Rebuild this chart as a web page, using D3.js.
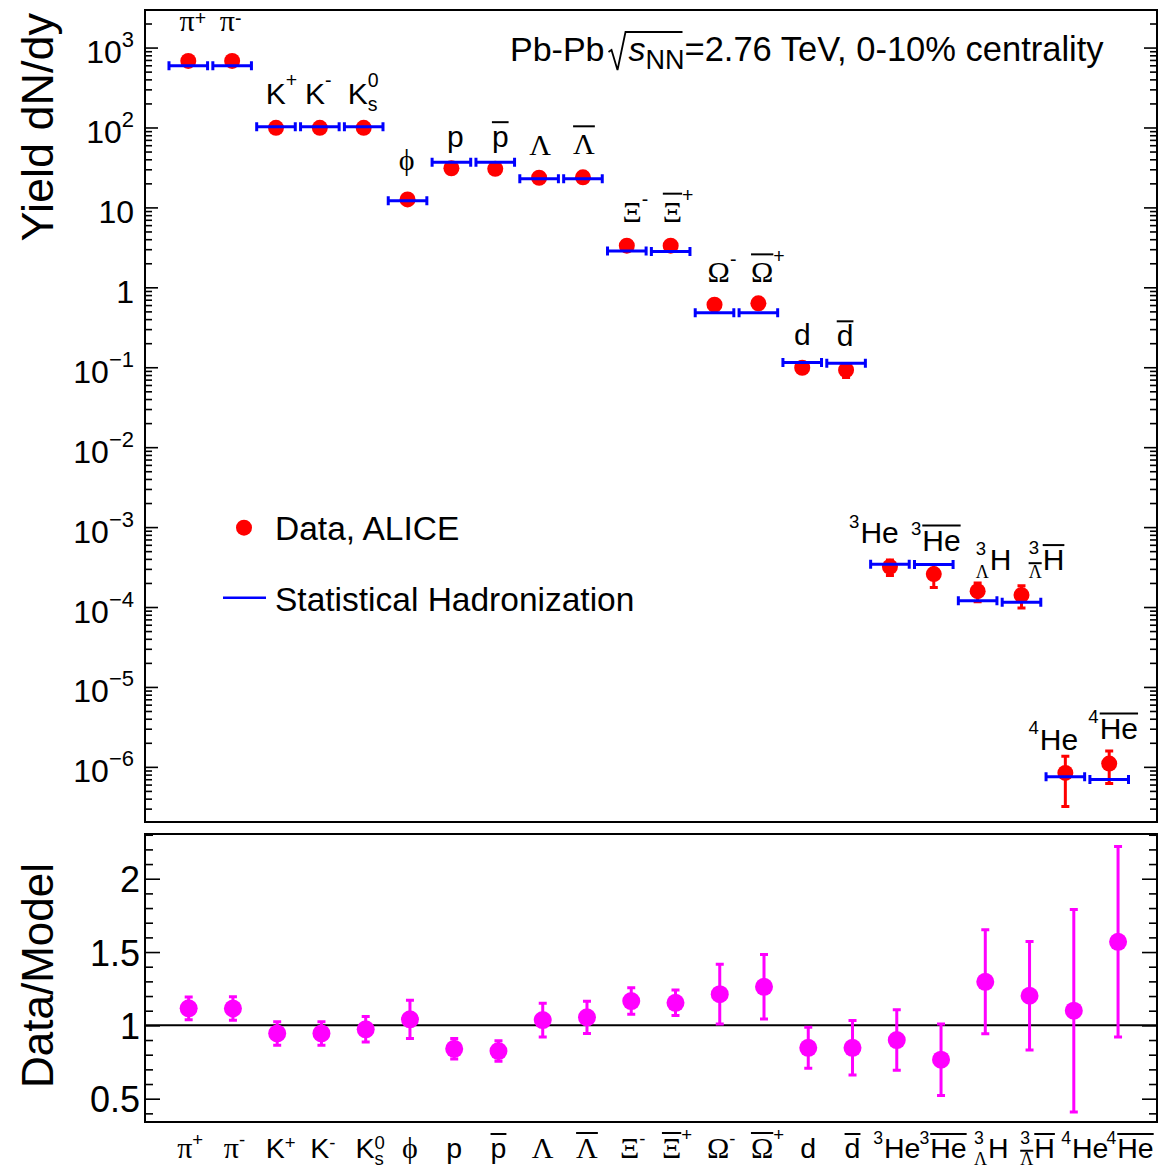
<!DOCTYPE html>
<html>
<head>
<meta charset="UTF-8">
<title>Yields Pb-Pb 2.76 TeV</title>
<script src="https://cdn.jsdelivr.net/npm/d3@7"></script>
<style>
  body { margin: 0; background: #fff; }
  svg text { font-family: "Liberation Sans", Arial, sans-serif; fill: #000; }
  svg text.greek { font-family: "Liberation Serif", "DejaVu Serif", serif; }
</style>
</head>
<body>
<svg width="1166" height="1168"></svg>
<script>
// species on the x axis
var species = ["pi+", "pi-", "K+", "K-", "K0s", "phi", "p", "pbar", "Lambda", "Lambdabar",
  "Xi-", "Xibar+", "Omega-", "Omegabar+", "d", "dbar", "3He", "3Hebar", "3LH", "3LHbar", "4He", "4Hebar"];

// measured yields dN/dy (ALICE)
var yieldData = [680, 680, 99, 99, 99, 12.6, 30.9, 30.4, 23.5, 23.8, 3.32, 3.32, 0.606, 0.63,
  0.0986, 0.0923, 3.18e-4, 2.58e-4, 1.58e-4, 1.41e-4, 8.4e-7, 1.10e-6];
var yieldErr = [50, 50, 8, 8, 8, 1.5, 2.5, 2.5, 2.5, 2.5, 0.3, 0.3, 0.09, 0.09,
  0.008, 0.018, 0.7e-4, 0.82e-4, 0.42e-4, 0.44e-4, 5.2e-7, 4.8e-7];

// statistical hadronization model
var yieldModel = [593, 593, 102, 102, 102, 12.1, 36.8, 36.8, 22.9, 22.9, 2.85, 2.80, 0.481, 0.481,
  0.115, 0.112, 3.44e-4, 3.40e-4, 1.20e-4, 1.15e-4, 7.5e-7, 6.97e-7];

// data / model
var ratio = [1.116, 1.115, 0.945, 0.945, 0.973, 1.041, 0.84, 0.825, 1.036, 1.055, 1.166, 1.154,
  1.213, 1.263, 0.847, 0.847, 0.90, 0.766, 1.297, 1.202, 1.10, 1.57];
var ratioErr = [0.078, 0.08, 0.08, 0.08, 0.087, 0.13, 0.07, 0.07, 0.115, 0.11, 0.09, 0.087,
  0.204, 0.22, 0.14, 0.186, 0.206, 0.244, 0.355, 0.37, 0.69, 0.65];

// axis ticks
var decadeExp = [3, 2, 1, 0, -1, -2, -3, -4, -5, -6];
var ratioTicks = [0.5, 1, 1.5, 2];
var ratioTickLabels = ["0.5", "1", "1.5", "2"];

// particle names, built from pieces (g = greek, sup/sub, bar = overline, lc = lower-case greek)
var tags = [
  [{g: "π", lc: 1}, {sup: "+"}],
  [{g: "π", lc: 1}, {sup: "-"}],
  [{t: "K"}, {sup: "+"}],
  [{t: "K"}, {sup: "-"}],
  [{t: "K"}, {sup: "0", sub: "s"}],
  [{g: "ϕ", lc: 1}],
  [{t: "p"}],
  [{t: "p", bar: 1}],
  [{g: "Λ"}],
  [{g: "Λ", bar: 1}],
  [{g: "Ξ"}, {sup: "-"}],
  [{g: "Ξ", bar: 1}, {sup: "+"}],
  [{g: "Ω"}, {sup: "-"}],
  [{g: "Ω", bar: 1}, {sup: "+"}],
  [{t: "d"}],
  [{t: "d", bar: 1}],
  [{sup: "3"}, {t: "He"}],
  [{sup: "3"}, {t: "He", bar: 1}],
  [{sup: "3", sub: "Λ", subG: 1}, {t: "H"}],
  [{sup: "3", sub: "Λ", subG: 1, subBar: 1}, {t: "H", bar: 1}],
  [{sup: "4"}, {t: "He"}],
  [{sup: "4"}, {t: "He", bar: 1}]
];
// hand placement of the names in the upper panel (shift, gap above the marks) and lower panel shift
var tagDx = [5, -1, 6, -1, 0, -1, 4, 5, 1, 1, 9, 8, 8, 10, 0, -1, -16, 2, 16, 25, -12, 4];
var tagGap = [30, 30, 23, 23, 23, 29, 15, 15, 23, 23, 24, 24, 23, 21, 17, 17, 21, 14, 21, 25, 23, 25];
var tagDxBottom = [2, 2, 4, 2, 5, 0, 0, 0, 0, 0, 2, 2, 2, 4, 0, 0, 0, 2, 6, 8, 11, 12];

var svg = d3.select("svg");
var L = 145, R = 1157, T1 = 10, B1 = 822, T2 = 834, B2 = 1122;

var xTop = d3.scaleLinear().domain([-0.987, 22.09]).range([L, R]);
var yTop = d3.scaleLog().domain([Math.pow(10, -6.69), Math.pow(10, 3.47)]).range([B1, T1]);
var xBot = d3.scaleLinear().domain([-0.987, 21.88]).range([L, R]);
var yBot = d3.scaleLinear().domain([0.341, 2.305]).range([B2, T2]);

var idx = d3.range(species.length);

// ---------- frames
svg.append("rect").attr("x", L).attr("y", T1).attr("width", R - L).attr("height", B1 - T1)
  .attr("fill", "none").attr("stroke", "#000").attr("stroke-width", 2);
svg.append("rect").attr("x", L).attr("y", T2).attr("width", R - L).attr("height", B2 - T2)
  .attr("fill", "none").attr("stroke", "#000").attr("stroke-width", 2);

// ---------- axes of upper panel
var decades = decadeExp.map(function(e) { return Math.pow(10, e); });
var minors = [];
for (var e = -7; e <= 3; e++) {
  for (var m = 2; m <= 9; m++) {
    var v = m * Math.pow(10, e);
    if (v > yTop.domain()[0] && v < yTop.domain()[1]) minors.push(v);
  }
}

function tickAxis(gen, x, vals, size, pad) {
  var g = svg.append("g").attr("transform", "translate(" + x + ",0)")
    .call(gen.tickValues(vals).tickSizeInner(size).tickSizeOuter(0).tickPadding(pad || 0));
  g.select(".domain").remove();
  g.selectAll("line").attr("stroke", "#000").attr("stroke-width", 1.6);
  return g;
}

tickAxis(d3.axisLeft(yTop).tickFormat(""), L, minors, -7);
tickAxis(d3.axisRight(yTop).tickFormat(""), R, minors, -7);
tickAxis(d3.axisRight(yTop).tickFormat(""), R, decades, -13);
var yAx = tickAxis(d3.axisLeft(yTop), L, decades, -13, 11);
yAx.attr("font-size", 32).attr("font-family", null);
yAx.selectAll("text").attr("dy", "0.47em").each(function(d) {
  var ex = Math.round(Math.log10(d));
  var t = d3.select(this).text("");
  if (ex === 0) { t.text("1"); return; }
  t.append("tspan").text("10");
  if (ex !== 1) {
    t.append("tspan").attr("font-size", 22).attr("dy", -16).text(ex < 0 ? "\u2212" + (-ex) : ex);
  }
});

// ---------- axes of lower panel
var rMinors = d3.range(4, 24).map(function(k) { return k / 10; })
  .filter(function(v) { return Math.abs(v * 2 - Math.round(v * 2)) > 1e-6; });
tickAxis(d3.axisLeft(yBot).tickFormat(""), L, rMinors, -8);
tickAxis(d3.axisRight(yBot).tickFormat(""), R, rMinors, -8);
tickAxis(d3.axisRight(yBot).tickFormat(""), R, ratioTicks, -15);
var rAx = tickAxis(d3.axisLeft(yBot).tickFormat(function(d, i) { return ratioTickLabels[i]; }),
  L, ratioTicks, -15, 5);
rAx.attr("font-size", 36).attr("font-family", null);
rAx.selectAll("text").attr("dy", "0.36em");

// axis titles
svg.append("text").attr("transform", "translate(53,13) rotate(-90)")
  .attr("text-anchor", "end").attr("font-size", 45).text("Yield dN/dy");
svg.append("text").attr("transform", "translate(53,863) rotate(-90)")
  .attr("text-anchor", "end").attr("font-size", 44).text("Data/Model");

// ---------- upper panel marks
var upper = svg.append("g");
var capW = 4;
upper.selectAll(".err").data(idx).enter().append("path")
  .attr("d", function(i) {
    var x = xTop(i), y1 = yTop(yieldData[i] + yieldErr[i]), y2 = yTop(Math.max(yieldData[i] - yieldErr[i], 1e-9));
    return "M" + x + "," + y1 + "V" + y2 + "M" + (x - capW) + "," + y1 + "H" + (x + capW) +
      "M" + (x - capW) + "," + y2 + "H" + (x + capW);
  })
  .attr("stroke", "#ff0000").attr("stroke-width", 3).attr("fill", "none");
upper.selectAll(".dot").data(idx).enter().append("circle")
  .attr("cx", function(i) { return xTop(i); })
  .attr("cy", function(i) { return yTop(yieldData[i]); })
  .attr("r", 8).attr("fill", "#ff0000");
var halfW = 0.44, capH = 4.5;
upper.selectAll(".model").data(idx).enter().append("path")
  .attr("d", function(i) {
    var x1 = xTop(i - halfW), x2 = xTop(i + halfW), y = yTop(yieldModel[i]);
    return "M" + x1 + "," + y + "H" + x2 + "M" + x1 + "," + (y - capH) + "V" + (y + capH) +
      "M" + x2 + "," + (y - capH) + "V" + (y + capH);
  })
  .attr("stroke", "#0000ff").attr("stroke-width", 3).attr("fill", "none");

// ---------- names
// superscript raise (fraction of font size) depending on what it follows
var topStyle = { S: 30, G: 30, bar: -25, gbar: -28, raise: { pre: 0.52, latin: 0.55, pi: 0.2, gcap: 0.53, bar: 0.65 } };
var botStyle = { S: 28.5, G: 30, bar: -24, gbar: -25, raise: { pre: 0.5, latin: 0.3, pi: 0.42, gcap: 0.47, bar: 0.58 } };

function drawTag(parent, parts, st) {
  var S = st.S, G = st.G;
  var g = parent.append("g");
  var x = 0, prev = "pre";
  function txt(str, size, greek, px, py) {
    var t = g.append("text").attr("x", px).attr("y", py).attr("font-size", size).text(str);
    if (greek) t.attr("class", "greek");
    return t.node().getComputedTextLength();
  }
  function bar(x1, x2, y) {
    g.append("line").attr("x1", x1).attr("x2", x2).attr("y1", y).attr("y2", y)
      .attr("stroke", "#000").attr("stroke-width", 2);
  }
  parts.forEach(function(p) {
    if (p.t || p.g) {
      var w = txt(p.t || p.g, p.g ? G : S, !!p.g, x, 0);
      if (p.bar) bar(x, x + w, p.g ? st.gbar : st.bar);
      x += w;
      prev = p.bar ? "bar" : (p.lc ? "pi" : (p.g ? "gcap" : "latin"));
    } else {
      var size = prev === "pre" ? S * 0.62 : S * 0.65;
      var ws = txt(p.sup, size, false, x, -S * st.raise[prev]), wb = 0;
      if (p.sub) {
        var sz = p.subG ? G * 0.6 : S * 0.65;
        wb = txt(p.sub, sz, !!p.subG, x, S * 0.25);
        if (p.subBar) bar(x, x + wb, S * 0.25 - sz * 0.8);
      }
      x += Math.max(ws, wb) + 1;
    }
  });
  return { g: g, w: x };
}

var tagLayer = svg.append("g");
idx.forEach(function(i) {
  var anchor = Math.min(yTop(yieldData[i]), yTop(yieldModel[i]));
  var a = drawTag(tagLayer, tags[i], topStyle);
  a.g.attr("transform", "translate(" + (xTop(i) + tagDx[i] - a.w / 2) + "," + (anchor - tagGap[i]) + ")");
  var b = drawTag(tagLayer, tags[i], botStyle);
  b.g.attr("transform", "translate(" + (xBot(i) + tagDxBottom[i] - b.w / 2) + ",1158)");
});

// ---------- title
var title = svg.append("g").attr("transform", "translate(510,61)");
var tx = 0;
function titlePart(str, size, dy, italic) {
  var t = title.append("text").attr("x", tx).attr("y", dy).attr("font-size", size).text(str);
  if (italic) t.attr("font-style", "italic");
  tx += t.node().getComputedTextLength();
}
titlePart("Pb-Pb ", 34, 0);
var r0 = tx + 4;
tx += 24;
titlePart("s", 34, 0, true);
titlePart("NN", 27, 8);
title.append("path")
  .attr("d", "M" + r0 + ",-9L" + (r0 + 3) + ",-11L" + (r0 + 9) + ",9L" + (r0 + 17) + ",-29H" + (tx - 2))
  .attr("stroke", "#000").attr("stroke-width", 1.8).attr("fill", "none");
titlePart("=2.76 TeV, 0-10% centrality", 34.5, 0);

// ---------- legend
svg.append("circle").attr("cx", 244).attr("cy", 527.7).attr("r", 8).attr("fill", "#ff0000");
svg.append("text").attr("x", 275).attr("y", 540).attr("font-size", 33.5).text("Data, ALICE");
svg.append("line").attr("x1", 223).attr("x2", 266).attr("y1", 597.7).attr("y2", 597.7)
  .attr("stroke", "#0000ff").attr("stroke-width", 2.5);
svg.append("text").attr("x", 275).attr("y", 611).attr("font-size", 33.5).text("Statistical Hadronization");

// ---------- lower panel marks
svg.append("line").attr("x1", L).attr("x2", R).attr("y1", yBot(1)).attr("y2", yBot(1))
  .attr("stroke", "#000").attr("stroke-width", 2);
var lower = svg.append("g");
lower.selectAll(".rerr").data(idx).enter().append("path")
  .attr("d", function(i) {
    var x = xBot(i), y1 = yBot(ratio[i] + ratioErr[i]), y2 = yBot(ratio[i] - ratioErr[i]);
    return "M" + x + "," + y1 + "V" + y2 + "M" + (x - capW) + "," + y1 + "H" + (x + capW) +
      "M" + (x - capW) + "," + y2 + "H" + (x + capW);
  })
  .attr("stroke", "#ff00ff").attr("stroke-width", 3).attr("fill", "none");
lower.selectAll(".rdot").data(idx).enter().append("circle")
  .attr("cx", function(i) { return xBot(i); })
  .attr("cy", function(i) { return yBot(ratio[i]); })
  .attr("r", 9).attr("fill", "#ff00ff");
</script>
</body>
</html>
